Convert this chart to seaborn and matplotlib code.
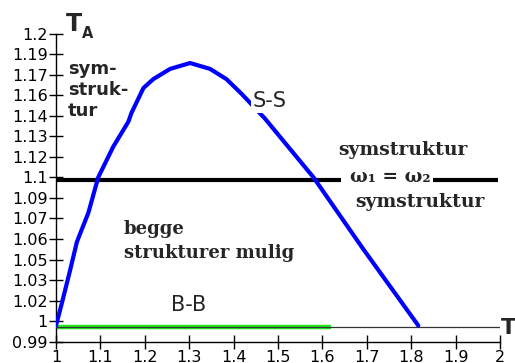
import numpy as np
import pandas as pd
import matplotlib
matplotlib.use("Agg")
import matplotlib.pyplot as plt
import seaborn as sns

# S-S stability boundary: T (x) versus T_A (y)
ss_T = [1.000, 1.013, 1.032, 1.047, 1.073, 1.095, 1.129, 1.163, 1.170, 1.197,
        1.219, 1.257, 1.302, 1.347, 1.384, 1.418, 1.471, 1.580, 1.690, 1.816]
ss_TA = [1.001, 1.016, 1.039, 1.058, 1.078, 1.102, 1.123, 1.140, 1.146, 1.163,
         1.169, 1.176, 1.180, 1.176, 1.169, 1.159, 1.142, 1.102, 1.054, 1.001]

# B-B branch (green) and the symmetric-structure level omega1 = omega2
bb_T = [1.0, 1.62]
bb_TA = [1.0, 1.0]
sym_level = 1.1
floor_level = 1.0

x_ticks = [1.0, 1.1, 1.2, 1.3, 1.4, 1.5, 1.6, 1.7, 1.8, 1.9, 2.0]
x_tick_labels = ["1", "1.1", "1.2", "1.3", "1.4", "1.5", "1.6", "1.7", "1.8", "1.9", "2"]
y_ticks = np.linspace(0.99, 1.2, 16)
y_tick_labels = ["0.99", "1", "1.02", "1.03", "1.05", "1.06", "1.07", "1.09",
                 "1.1", "1.12", "1.13", "1.14", "1.16", "1.17", "1.19", "1.2"]

sns.set_style("ticks")
plt.rcParams["font.family"] = ["DejaVu Sans"]

fig = plt.figure(figsize=(5.15, 3.63), dpi=100)
ax = fig.add_axes([56 / 515, 1 - 341.7 / 363, 444 / 515, 308 / 363])

ss = pd.DataFrame({"T": ss_T, "TA": ss_TA})
bb = pd.DataFrame({"T": bb_T, "TA": bb_TA})

sns.lineplot(data=bb, x="T", y="TA", color="#1fea1f", lw=3.2, ax=ax,
             solid_capstyle="butt", zorder=2)
ax.plot([1.0, 2.0], [floor_level, floor_level], color="#333333", lw=0.9, zorder=3)
sns.lineplot(data=ss, x="T", y="TA", sort=False, estimator=None, color="#0000ff",
             lw=3.0, ax=ax, zorder=4)

# omega1 = omega2 line, broken around its label
ax.plot([1.0, 1.643], [sym_level, sym_level], color="black", lw=3.0,
        solid_capstyle="butt", zorder=3)
ax.plot([1.848, 1.995], [sym_level, sym_level], color="black", lw=3.0,
        solid_capstyle="butt", zorder=3)

ax.set_xlim(1.0, 2.0)
ax.set_ylim(0.99, 1.2)
ax.set_xticks(x_ticks)
ax.set_xticklabels(x_tick_labels)
ax.set_yticks(y_ticks)
ax.set_yticklabels(y_tick_labels)
ax.set_xlabel("")
ax.set_ylabel("")
ax.tick_params(direction="inout", length=10, width=1, labelsize=11.5,
               colors="black", pad=1)
for side in ("top", "right"):
    ax.spines[side].set_visible(False)
for side in ("left", "bottom"):
    ax.spines[side].set_color("black")
    ax.spines[side].set_linewidth(1)

serif = ["DejaVu Serif"]

# axis titles
fig.text(66 / 515, 1 - 24 / 363, "T", fontsize=17, fontweight="bold",
         ha="left", va="center")
fig.text(82 / 515, 1 - 33 / 363, "A", fontsize=10.5, fontweight="bold",
         ha="left", va="center")
fig.text(501 / 515, 1 - 328 / 363, "T", fontsize=16, fontweight="bold",
         ha="left", va="center")

# region labels
fig.text(68 / 515, 1 - 90 / 363, "sym-\nstruk-\ntur", fontsize=13,
         fontweight="bold", ha="left", va="center", linespacing=1.2)
fig.text(270 / 515, 1 - 101 / 363, "S-S", fontsize=15, ha="center", va="center",
         bbox=dict(facecolor="white", edgecolor="none", pad=1.5), zorder=10)
fig.text(189 / 515, 1 - 305 / 363, "B-B", fontsize=15, ha="center", va="center")
fig.text(403 / 515, 1 - 150 / 363, "symstruktur", fontsize=13.5, fontweight="bold",
         family=serif, ha="center", va="center")
fig.text(390 / 515, 1 - 177 / 363, "ω₁ = ω₂", fontsize=13.5, fontweight="bold",
         family=serif, ha="center", va="center")
fig.text(420 / 515, 1 - 202 / 363, "symstruktur", fontsize=13.5, fontweight="bold",
         family=serif, ha="center", va="center")
fig.text(124 / 515, 1 - 241 / 363, "begge\nstrukturer mulig", fontsize=13,
         fontweight="bold", family=serif, ha="left", va="center", linespacing=1.45)

fig.savefig("out.png", dpi=100)
